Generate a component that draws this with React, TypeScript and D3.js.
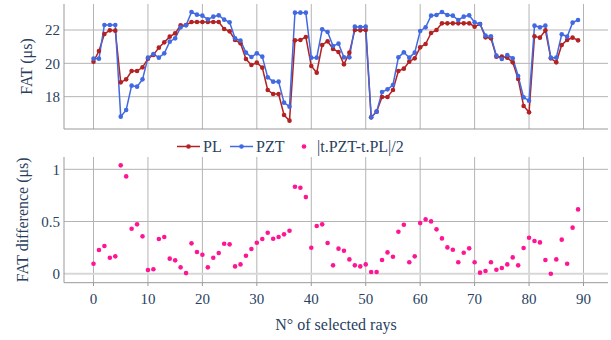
import React from "react";
import * as d3 from "d3";

const rays: number[] = Array.from({ length: 90 }, (_, i) => i);

const plValues: number[] = [
  20.1, 20.74, 21.76, 21.98, 21.96, 18.86, 19.04, 19.54, 19.54, 19.76,
  20.28, 20.5, 20.94, 21.26, 21.6, 21.8, 22.28, 22.3, 22.48, 22.48,
  22.48, 22.48, 22.48, 22.48, 22.06, 21.92, 21.4, 21.2, 20.26, 19.9,
  20.04, 19.74, 18.4, 18.16, 18.16, 16.9, 16.56, 21.38, 21.4, 21.58,
  19.84, 19.44, 21.1, 21.32, 20.86, 20.68, 19.94, 20.64, 22.0, 21.98,
  22.0, 16.76, 17.1, 17.98, 17.98, 18.4, 19.54, 19.68, 20.1, 20.3,
  20.96, 21.16, 21.82, 22.0, 22.4, 22.4, 22.4, 22.4, 22.4, 22.4,
  22.2, 22.36, 21.56, 21.5, 20.4, 20.4, 20.34, 20.06, 19.06, 17.44,
  17.06, 21.62, 21.54, 21.98, 20.3, 20.06, 21.1, 21.4, 21.54, 21.38,
];

const pztValues: number[] = [
  20.28, 20.28, 22.3, 22.3, 22.3, 16.8, 17.2, 18.66, 18.6, 19.04,
  20.34, 20.56, 20.34, 20.6, 21.3, 21.5, 22.16, 22.28, 23.08, 22.92,
  22.86, 22.64, 22.8, 22.88, 22.62, 22.46, 21.5, 21.36, 20.64, 20.38,
  20.6, 20.4, 19.16, 18.9, 18.9, 17.64, 17.4, 23.04, 23.04, 23.04,
  20.34, 20.34, 22.04, 21.88, 21.04, 21.18, 20.36, 20.36, 22.2, 22.18,
  22.2, 16.76, 17.1, 18.28, 18.44, 18.7, 20.36, 20.66, 20.34, 20.64,
  21.94, 22.16, 22.86, 22.9, 23.08, 22.9, 22.86, 22.6, 22.8, 22.88,
  22.46, 22.36, 21.66, 21.62, 20.46, 20.26, 20.5, 20.3, 19.24, 17.96,
  17.76, 22.26, 22.16, 22.26, 20.34, 20.34, 21.74, 21.6, 22.44, 22.6,
];

const diffValues: number[] = [
  0.096, 0.227, 0.265, 0.153, 0.166, 1.038, 0.932, 0.431, 0.473, 0.358,
  0.035, 0.042, 0.332, 0.351, 0.144, 0.128, 0.061, 0.006, 0.291, 0.208,
  0.182, 0.061, 0.153, 0.198, 0.287, 0.281, 0.07, 0.089, 0.172, 0.236,
  0.297, 0.332, 0.393, 0.335, 0.351, 0.377, 0.412, 0.833, 0.824, 0.734,
  0.249, 0.457, 0.473, 0.294, 0.08, 0.24, 0.22, 0.137, 0.08, 0.07,
  0.089, 0.016, 0.016, 0.131, 0.204, 0.163, 0.402, 0.469, 0.109, 0.166,
  0.485, 0.52, 0.501, 0.425, 0.338, 0.252, 0.23, 0.109, 0.201, 0.243,
  0.109, 0.01, 0.026, 0.109, 0.038, 0.054, 0.089, 0.156, 0.08, 0.246,
  0.345, 0.313, 0.3, 0.131, 0.0, 0.137, 0.326, 0.096, 0.441, 0.616,
];

const xTicks: number[] = [0, 10, 20, 30, 40, 50, 60, 70, 80, 90];
const topTicks: number[] = [18, 20, 22];
const botTicks: number[] = [0, 0.5, 1];
const botTickLabels: string[] = ["0", "0.5", "1"];

const seriesNames: string[] = ["PL", "PZT", "|t.PZT-t.PL|/2"];

const TEXT = "#2a3f5f";
const GRID = "#b4b4b4";
const AXIS = "#999";
const RED = "#b22222";
const BLUE = "#4169e1";
const PINK = "#ff1493";
const FONT = "'Liberation Serif', 'Times New Roman', serif";

export default function App() {
  const W = 611;
  const H = 340;
  const x = d3.scaleLinear().domain([-5.42, 94.5]).range([64, 608]);
  const yTop = d3.scaleLinear().domain([16.06, 23.56]).range([129, 4]);
  const yBot = d3.scaleLinear().domain([-0.0862, 1.118]).range([282.7, 157]);

  const linePL = d3
    .line<number>()
    .x((_, i) => x(rays[i]))
    .y((d) => yTop(d));

  return (
    <svg
      width={W}
      height={H}
      style={{ position: "absolute", left: 0, top: 0, background: "#fff" }}
      fontFamily={FONT}
    >
      {/* top panel grid */}
      {xTicks.map((t) => (
        <line key={"tv" + t} x1={x(t)} x2={x(t)} y1={4} y2={129} stroke={GRID} strokeWidth={1} />
      ))}
      {topTicks.map((t) => (
        <line key={"th" + t} x1={64} x2={608} y1={yTop(t)} y2={yTop(t)} stroke={GRID} strokeWidth={1} />
      ))}
      <line x1={64} x2={64} y1={4} y2={129} stroke={AXIS} strokeWidth={1} />
      <line x1={64} x2={608} y1={129} y2={129} stroke={AXIS} strokeWidth={1} />
      {topTicks.map((t) => (
        <text key={"tl" + t} x={60} y={yTop(t)} dy="0.35em" textAnchor="end" fontSize={15} fill={TEXT}>
          {t}
        </text>
      ))}
      <text
        transform={`translate(26,${(4 + 129) / 2}) rotate(-90)`}
        textAnchor="middle"
        dy="0.35em"
        fontSize={16}
        fill={TEXT}
      >
        FAT (μs)
      </text>

      {/* top panel data */}
      <path d={linePL(plValues) || ""} fill="none" stroke={RED} strokeWidth={1.5} />
      <path d={linePL(pztValues) || ""} fill="none" stroke={BLUE} strokeWidth={1.5} />
      {plValues.map((v, i) => (
        <circle key={"pl" + i} cx={x(rays[i])} cy={yTop(v)} r={2.3} fill={RED} />
      ))}
      {pztValues.map((v, i) => (
        <circle key={"pz" + i} cx={x(rays[i])} cy={yTop(v)} r={2.3} fill={BLUE} />
      ))}

      {/* legend */}
      <g fontSize={16} fill={TEXT}>
        <line x1={177} x2={200} y1={146.5} y2={146.5} stroke={RED} strokeWidth={1.5} />
        <circle cx={188.5} cy={146.5} r={2.3} fill={RED} />
        <text x={203} y={146.5} dy="0.35em">{seriesNames[0]}</text>
        <line x1={230} x2={253} y1={146.5} y2={146.5} stroke={BLUE} strokeWidth={1.5} />
        <circle cx={241.5} cy={146.5} r={2.3} fill={BLUE} />
        <text x={256} y={146.5} dy="0.35em">{seriesNames[1]}</text>
        <circle cx={304} cy={146.5} r={2.3} fill={PINK} />
        <text x={317} y={146.5} dy="0.35em">{seriesNames[2]}</text>
      </g>

      {/* bottom panel grid */}
      {xTicks.map((t) => (
        <line key={"bv" + t} x1={x(t)} x2={x(t)} y1={157} y2={282.7} stroke={GRID} strokeWidth={1} />
      ))}
      {botTicks.filter((t) => t !== 0).map((t) => (
        <line key={"bh" + t} x1={64} x2={608} y1={yBot(t)} y2={yBot(t)} stroke={GRID} strokeWidth={1} />
      ))}
      <line x1={64} x2={608} y1={yBot(0)} y2={yBot(0)} stroke="#d8d8d8" strokeWidth={2} />
      <line x1={64} x2={64} y1={157} y2={282.7} stroke={AXIS} strokeWidth={1} />
      <line x1={64} x2={608} y1={282.7} y2={282.7} stroke={AXIS} strokeWidth={1} />
      {xTicks.map((t) => (
        <line key={"bt" + t} x1={x(t)} x2={x(t)} y1={282.7} y2={286} stroke={AXIS} strokeWidth={1} />
      ))}
      {botTicks.map((t, i) => (
        <text key={"bl" + t} x={60} y={yBot(t)} dy="0.35em" textAnchor="end" fontSize={15} fill={TEXT}>
          {botTickLabels[i]}
        </text>
      ))}
      {xTicks.map((t) => (
        <text key={"xl" + t} x={x(t)} y={304} textAnchor="middle" fontSize={15} fill={TEXT}>
          {t}
        </text>
      ))}
      <text
        transform={`translate(22,${(157 + 282.7) / 2}) rotate(-90)`}
        textAnchor="middle"
        dy="0.35em"
        fontSize={16}
        fill={TEXT}
      >
        FAT difference (μs)
      </text>
      <text x={336} y={330} textAnchor="middle" fontSize={16} fill={TEXT}>
        N° of selected rays
      </text>

      {diffValues.map((v, i) => (
        <circle key={"df" + i} cx={x(rays[i])} cy={yBot(v)} r={2.3} fill={PINK} />
      ))}
    </svg>
  );
}
